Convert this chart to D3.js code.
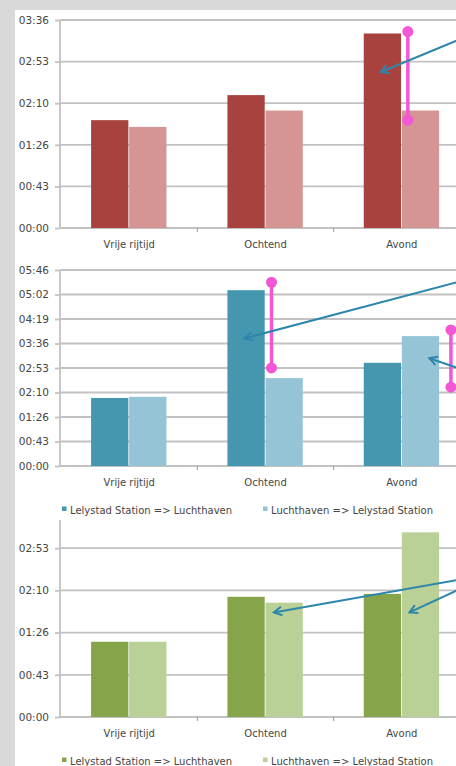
<!DOCTYPE html>
<html><head><meta charset="utf-8">
<script src="https://cdn.jsdelivr.net/npm/d3@7"></script>
<style>
  body { margin: 0; background: #d9d9d9; }
  svg { display: block; }
  text { font-family: "DejaVu Sans", sans-serif; fill: #454545; }
</style>
</head><body>
<svg id="chart" width="456" height="766"></svg>
<script>
// Categories (time of day) shared by all three charts
const categories = ["Vrije rijtijd", "Ochtend", "Avond"];

// Travel times in minutes, outbound (=> Luchthaven) and return (=> Lelystad Station)
const redOutbound   = [112, 138, 202];
const redReturn     = [105, 122, 122];
const tealOutbound  = [120, 310, 182];
const tealReturn    = [122, 155, 229];
const greenOutbound = [77, 123, 126];
const greenReturn   = [77, 117, 189];

const legendLabels = ["Lelystad Station => Luchthaven", "Luchthaven => Lelystad Station"];

// Axis tick labels (one major unit = 0.03 day = 43.2 minutes)
const tickStep = 43.2;
const ticksRed   = ["00:00", "00:43", "01:26", "02:10", "02:53", "03:36"];
const ticksTeal  = ["00:00", "00:43", "01:26", "02:10", "02:53", "03:36", "04:19", "05:02", "05:46"];
const ticksGreen = ["00:00", "00:43", "01:26", "02:10", "02:53"];
const axisMax    = [216, 345.6, 201.6];

// Spread annotations (minutes): pink whiskers between two levels
const spreadRed   = [{cat: "Avond",   from: 204, to: 112}];
const spreadTeal  = [{cat: "Ochtend", from: 324, to: 173}, {cat: "Avond", from: 240, to: 139}];
const spreadGreen = [];

// Callout arrows pointing at a bar (minutes at the arrow tip)
const arrowsRed   = [{cat: "Avond", side: 0, at: 0.45, value: 162, fromY: 40}];
const arrowsTeal  = [{cat: "Ochtend", side: 0, at: 0.45, value: 225, fromY: 282},
                     {cat: "Avond", side: 1, at: 0.72, value: 190, fromY: 368}];
const arrowsGreen = [{cat: "Ochtend", side: 1, at: 0.22, value: 107, fromY: 580},
                     {cat: "Avond", side: 1, at: 0.2, value: 107, fromY: 590}];

const svg = d3.select("#chart");
const W = 456;

svg.append("rect").attr("x", 15).attr("y", 10).attr("width", W - 15).attr("height", 766 - 10).attr("fill", "#ffffff");

const panels = [
  {top: 20,  bottom: 228, max: axisMax[0], ticks: ticksRed,   a: redOutbound,   b: redReturn,
   colors: ["#a8423f", "#d49594"], spreads: spreadRed, arrows: arrowsRed, legend: false},
  {top: 270, bottom: 466, max: axisMax[1], ticks: ticksTeal,  a: tealOutbound,  b: tealReturn,
   colors: ["#4497ae", "#94c4d6"], spreads: spreadTeal, arrows: arrowsTeal, legend: true},
  {top: 520, bottom: 717, max: axisMax[2], ticks: ticksGreen, a: greenOutbound, b: greenReturn,
   colors: ["#86a44a", "#b9d096"], spreads: spreadGreen, arrows: arrowsGreen, legend: true}
];

const x0 = d3.scaleBand().domain(categories).range([61, 470]).padding(0);
const x1 = d3.scaleBand().domain([0, 1]).range([0, x0.bandwidth()]).paddingInner(0).paddingOuter(0.79);

const gridColor = "#c2c2c2";
const arrowColor = "#2d86ab";
const pink = "#f257d6";

panels.forEach(p => {
  const g = svg.append("g");
  const y = d3.scaleLinear().domain([0, p.max]).range([p.bottom, p.top]);
  const tickVals = p.ticks.map((_, i) => i * tickStep);

  // gridlines
  g.selectAll("line.grid").data(tickVals).join("line")
    .attr("x1", 60).attr("x2", W).attr("y1", d => y(d)).attr("y2", d => y(d))
    .attr("stroke", gridColor).attr("stroke-width", 1.8);

  // y axis
  const yAxis = d3.axisLeft(y).tickValues(tickVals).tickSize(5).tickPadding(6)
    .tickFormat((d, i) => p.ticks[i]);
  const ya = g.append("g").attr("transform", "translate(60,0)").call(yAxis);
  ya.select(".domain").attr("stroke", gridColor).attr("stroke-width", 1.8)
    .attr("d", `M0,${p.bottom}V${p.top}`);
  ya.selectAll(".tick line").attr("stroke", gridColor).attr("stroke-width", 1.8);
  ya.selectAll(".tick text").attr("font-size", 10.5).attr("fill", "#454545")
    .attr("font-family", "DejaVu Sans, sans-serif");

  // x axis
  const xa = g.append("g").attr("transform", `translate(0,${p.bottom})`)
    .call(d3.axisBottom(x0).tickSize(0).tickPadding(13));
  xa.select(".domain").attr("stroke", gridColor).attr("stroke-width", 1.8).attr("d", `M60,0H${W}`);
  xa.selectAll(".tick text").attr("font-size", 10).attr("fill", "#454545")
    .attr("font-family", "DejaVu Sans, sans-serif");
  g.selectAll("line.sep").data(categories.slice(1)).join("line")
    .attr("x1", d => x0(d)).attr("x2", d => x0(d))
    .attr("y1", p.bottom).attr("y2", p.bottom + 4)
    .attr("stroke", "#9a9a9a").attr("stroke-width", 1);

  // bars
  const rows = categories.map((c, i) => ({cat: c, vals: [p.a[i], p.b[i]]}));
  g.selectAll("g.cat").data(rows).join("g")
    .attr("transform", d => `translate(${x0(d.cat)},0)`)
    .selectAll("rect").data(d => d.vals.map((v, k) => ({v, k}))).join("rect")
    .attr("x", d => x1(d.k)).attr("width", x1.bandwidth() - 0.8)
    .attr("y", d => y(d.v)).attr("height", d => p.bottom - y(d.v))
    .attr("fill", d => p.colors[d.k]);

  // legend
  if (p.legend) {
    const ly = p.bottom + 44;
    const lx = [62, 263];
    legendLabels.forEach((t, k) => {
      g.append("rect").attr("x", lx[k]).attr("y", ly - 3.5).attr("width", 4.5).attr("height", 4.5)
        .attr("fill", p.colors[k]);
      g.append("text").attr("x", lx[k] + 8).attr("y", ly + 3.5).attr("font-size", 10).text(t);
    });
  }

  // spread whiskers
  p.spreads.forEach(s => {
    const xs = s.cat === "Avond" && p.spreads.length > 1
      ? x0(s.cat) + x1(1) + x1.bandwidth() + 11
      : x0(s.cat) + x1(1) + 6;
    g.append("line").attr("x1", xs).attr("x2", xs).attr("y1", y(s.from)).attr("y2", y(s.to))
      .attr("stroke", pink).attr("stroke-width", 3.5);
    [s.from, s.to].forEach(v => g.append("circle").attr("cx", xs).attr("cy", y(v)).attr("r", 5.5).attr("fill", pink));
  });

  // callout arrows
  p.arrows.forEach(a => {
    const tx = x0(a.cat) + x1(a.side) + x1.bandwidth() * a.at;
    const ty = y(a.value);
    const sx = W + 2, sy = a.fromY;
    g.append("line").attr("x1", sx).attr("y1", sy).attr("x2", tx).attr("y2", ty)
      .attr("stroke", arrowColor).attr("stroke-width", 2);
    const ang = Math.atan2(sy - ty, sx - tx);
    const L = 9, spread = 0.5;
    const p1 = [tx + L * Math.cos(ang + spread), ty + L * Math.sin(ang + spread)];
    const p2 = [tx + L * Math.cos(ang - spread), ty + L * Math.sin(ang - spread)];
    g.append("path").attr("d", `M${p1}L${tx},${ty}L${p2}`)
      .attr("fill", "none").attr("stroke", arrowColor).attr("stroke-width", 2)
      .attr("stroke-linejoin", "miter");
  });
});
</script>
</body></html>
